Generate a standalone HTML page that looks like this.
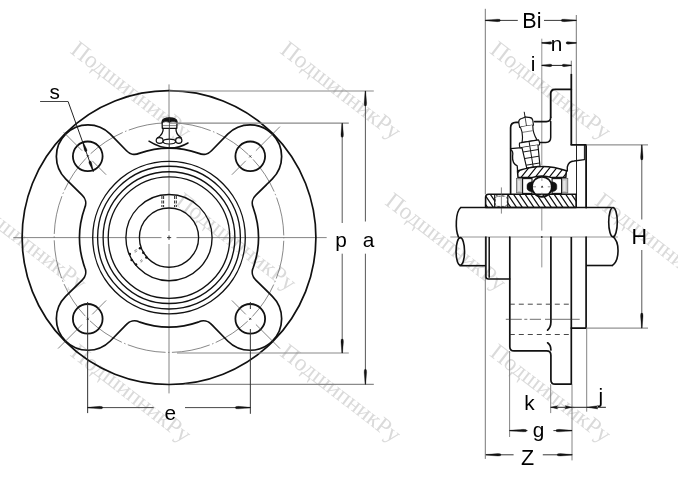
<!DOCTYPE html>
<html><head><meta charset="utf-8"><style>
html,body{margin:0;padding:0;background:#fff;width:678px;height:489px;overflow:hidden}
svg{display:block}
text{font-family:"Liberation Sans",sans-serif}
text.wm{font-family:"Liberation Serif",serif}
</style></head><body>
<svg width="678" height="489" viewBox="0 0 678 489">
<rect width="678" height="489" fill="#fff"/>
<g opacity="0.999"><text class="wm" transform="translate(-129.5,41.2) rotate(37.6)" x="-2" y="15.5" font-size="23.5" fill="#dadada">ПодшипникРу</text><text class="wm" transform="translate(80.3,41.2) rotate(37.6)" x="-2" y="15.5" font-size="23.5" fill="#dadada">ПодшипникРу</text><text class="wm" transform="translate(290.1,41.2) rotate(37.6)" x="-2" y="15.5" font-size="23.5" fill="#dadada">ПодшипникРу</text><text class="wm" transform="translate(499.9,41.2) rotate(37.6)" x="-2" y="15.5" font-size="23.5" fill="#dadada">ПодшипникРу</text><text class="wm" transform="translate(-24.6,192.6) rotate(37.6)" x="-2" y="15.5" font-size="23.5" fill="#dadada">ПодшипникРу</text><text class="wm" transform="translate(185.2,192.6) rotate(37.6)" x="-2" y="15.5" font-size="23.5" fill="#dadada">ПодшипникРу</text><text class="wm" transform="translate(395.0,192.6) rotate(37.6)" x="-2" y="15.5" font-size="23.5" fill="#dadada">ПодшипникРу</text><text class="wm" transform="translate(604.8,192.6) rotate(37.6)" x="-2" y="15.5" font-size="23.5" fill="#dadada">ПодшипникРу</text><text class="wm" transform="translate(-129.5,344.0) rotate(37.6)" x="-2" y="15.5" font-size="23.5" fill="#dadada">ПодшипникРу</text><text class="wm" transform="translate(80.3,344.0) rotate(37.6)" x="-2" y="15.5" font-size="23.5" fill="#dadada">ПодшипникРу</text><text class="wm" transform="translate(290.1,344.0) rotate(37.6)" x="-2" y="15.5" font-size="23.5" fill="#dadada">ПодшипникРу</text><text class="wm" transform="translate(499.9,344.0) rotate(37.6)" x="-2" y="15.5" font-size="23.5" fill="#dadada">ПодшипникРу</text></g><line x1="13.30" y1="237.60" x2="161.50" y2="237.60" stroke="#777" stroke-width="0.9" /><line x1="176.50" y1="237.60" x2="326.70" y2="237.60" stroke="#777" stroke-width="0.9" /><line x1="167.00" y1="237.60" x2="171.20" y2="237.60" stroke="#222" stroke-width="0.9" /><line x1="169.00" y1="84.40" x2="169.00" y2="231.00" stroke="#777" stroke-width="0.9" /><line x1="169.00" y1="244.00" x2="169.00" y2="393.40" stroke="#777" stroke-width="0.9" /><line x1="169.00" y1="235.40" x2="169.00" y2="239.80" stroke="#222" stroke-width="0.9" /><circle cx="169.00" cy="237.60" r="146.90" fill="none" stroke="#111" stroke-width="1.7" /><circle cx="169.00" cy="237.60" r="114.80" fill="none" stroke="#555" stroke-width="0.7" stroke-dasharray="38.6 2.5 1.5 2.5" stroke-dashoffset="41.85"/><circle cx="169.00" cy="237.60" r="76.30" fill="none" stroke="#111" stroke-width="1.35" /><circle cx="169.00" cy="237.60" r="71.40" fill="none" stroke="#111" stroke-width="1.35" /><circle cx="169.00" cy="237.60" r="65.90" fill="none" stroke="#111" stroke-width="1.35" /><circle cx="169.00" cy="237.60" r="60.80" fill="none" stroke="#111" stroke-width="1.35" /><circle cx="169.00" cy="237.60" r="43.10" fill="none" stroke="#111" stroke-width="1.35" /><circle cx="169.00" cy="237.60" r="29.60" fill="none" stroke="#111" stroke-width="1.35" /><path d="M253.24,207.67 A89.4,89.4 0 0 1 253.24,267.53 A11.0,11.0 0 0 0 255.85,280.07 L272.38,296.29 A31.6,31.6 0 1 1 227.69,340.98 L211.47,324.45 A11.0,11.0 0 0 0 198.93,321.84 L198.93,321.84 A89.4,89.4 0 0 1 139.07,321.84 A11.0,11.0 0 0 0 126.53,324.45 L110.31,340.98 A31.6,31.6 0 1 1 65.62,296.29 L82.15,280.07 A11.0,11.0 0 0 0 84.76,267.53 L84.76,267.53 A89.4,89.4 0 0 1 84.76,207.67 A11.0,11.0 0 0 0 82.15,195.13 L65.62,178.91 A31.6,31.6 0 1 1 110.31,134.22 L126.53,150.75 A11.0,11.0 0 0 0 139.07,153.36 L139.07,153.36 A89.4,89.4 0 0 1 198.93,153.36 A11.0,11.0 0 0 0 211.47,150.75 L227.69,134.22 A31.6,31.6 0 1 1 272.38,178.91 L255.85,195.13 A11.0,11.0 0 0 0 253.24,207.67 Z" fill="none" stroke="#111" stroke-width="1.7" stroke-linejoin="round" stroke-linecap="round" /><circle cx="87.75" cy="156.35" r="14.85" fill="none" stroke="#111" stroke-width="1.8" /><line x1="106.14" y1="174.74" x2="92.21" y2="160.81" stroke="#444" stroke-width="0.65" /><line x1="82.10" y1="150.70" x2="63.71" y2="132.31" stroke="#444" stroke-width="0.65" /><line x1="88.81" y1="157.41" x2="86.69" y2="155.29" stroke="#333" stroke-width="0.8" /><line x1="86.69" y1="157.41" x2="88.81" y2="155.29" stroke="#333" stroke-width="0.8" /><circle cx="250.25" cy="156.35" r="14.85" fill="none" stroke="#111" stroke-width="1.8" /><line x1="231.86" y1="174.74" x2="245.79" y2="160.81" stroke="#444" stroke-width="0.65" /><line x1="255.90" y1="150.70" x2="279.95" y2="126.65" stroke="#444" stroke-width="0.65" /><line x1="249.19" y1="157.41" x2="251.31" y2="155.29" stroke="#333" stroke-width="0.8" /><line x1="249.19" y1="155.29" x2="251.31" y2="157.41" stroke="#333" stroke-width="0.8" /><circle cx="250.25" cy="318.85" r="14.85" fill="none" stroke="#111" stroke-width="1.8" /><line x1="231.86" y1="300.46" x2="245.79" y2="314.39" stroke="#444" stroke-width="0.65" /><line x1="255.90" y1="324.50" x2="279.95" y2="348.55" stroke="#444" stroke-width="0.65" /><line x1="249.19" y1="317.79" x2="251.31" y2="319.91" stroke="#333" stroke-width="0.8" /><line x1="251.31" y1="317.79" x2="249.19" y2="319.91" stroke="#333" stroke-width="0.8" /><circle cx="87.75" cy="318.85" r="14.85" fill="none" stroke="#111" stroke-width="1.8" /><line x1="106.14" y1="300.46" x2="92.21" y2="314.39" stroke="#444" stroke-width="0.65" /><line x1="82.10" y1="324.50" x2="58.05" y2="348.55" stroke="#444" stroke-width="0.65" /><line x1="88.81" y1="317.79" x2="86.69" y2="319.91" stroke="#333" stroke-width="0.8" /><line x1="88.81" y1="319.91" x2="86.69" y2="317.79" stroke="#333" stroke-width="0.8" /><path d="M162.3,128.3 L162.1,121.8 Q162.4,117.9 169.5,117.9 Q176.8,117.9 177,121.8 L176.8,128.3 Z" fill="#fff" stroke="#111" stroke-width="1.3" stroke-linejoin="round" stroke-linecap="round" /><path d="M162.3,122.6 Q162.4,118.1 169.5,118.1 Q176.7,118.1 176.9,122.6 Q173,120.6 169.5,122.4 Q166,120.6 162.3,122.6 Z" fill="#111" stroke="#111" stroke-width="0.6" stroke-linejoin="round" stroke-linecap="round" /><path d="M163.2,128.3 Q163.4,134.5 157.6,137.9 M176,128.3 Q175.6,134.5 181.2,137.9" fill="none" stroke="#111" stroke-width="1.3" stroke-linejoin="round" stroke-linecap="round" /><line x1="162.50" y1="125.60" x2="176.60" y2="125.60" stroke="#333" stroke-width="0.6" /><ellipse cx="159.65" cy="140.5" rx="3.45" ry="2.8" fill="#fff" stroke="#111" stroke-width="1.2"/><ellipse cx="169.35" cy="141.55" rx="6.25" ry="2.45" fill="#fff" stroke="#111" stroke-width="1.2"/><ellipse cx="178.75" cy="140.5" rx="3.15" ry="2.8" fill="#fff" stroke="#111" stroke-width="1.2"/><line x1="169.40" y1="117.00" x2="169.40" y2="147.00" stroke="#333" stroke-width="0.8" /><path d="M149,141.2 Q169,154 188,143" fill="none" stroke="#111" stroke-width="1.5" stroke-linejoin="round" stroke-linecap="round" /><line x1="161.90" y1="196.00" x2="161.90" y2="207.00" stroke="#111" stroke-width="0.9" stroke-dasharray="3 1.5"/><line x1="163.60" y1="196.00" x2="163.60" y2="207.00" stroke="#111" stroke-width="0.9" stroke-dasharray="3 1.5"/><line x1="174.60" y1="196.00" x2="174.60" y2="207.00" stroke="#111" stroke-width="0.9" stroke-dasharray="3 1.5"/><line x1="176.30" y1="196.00" x2="176.30" y2="207.00" stroke="#111" stroke-width="0.9" stroke-dasharray="3 1.5"/><circle cx="129.8" cy="253.9" r="1.25" fill="#111"/><circle cx="131.6" cy="260.0" r="1.25" fill="#111"/><circle cx="136.0" cy="264.6" r="1.25" fill="#111"/><circle cx="140.0" cy="248.3" r="1.25" fill="#111"/><circle cx="143.3" cy="252.7" r="1.25" fill="#111"/><circle cx="146.4" cy="257.6" r="1.25" fill="#111"/><line x1="134.20" y1="251.00" x2="136.60" y2="249.40" stroke="#555" stroke-width="0.7" /><line x1="134.80" y1="252.40" x2="137.20" y2="250.80" stroke="#555" stroke-width="0.7" /><line x1="140.00" y1="261.20" x2="142.00" y2="259.40" stroke="#555" stroke-width="0.7" /><line x1="140.80" y1="262.40" x2="142.80" y2="260.60" stroke="#555" stroke-width="0.7" /><line x1="40.10" y1="101.50" x2="68.10" y2="101.50" stroke="#444" stroke-width="1.0" /><line x1="68.10" y1="101.50" x2="93.40" y2="172.00" stroke="#222" stroke-width="1.0" /><path d="M83.12,141.99 L84.92,145.59 L86.76,149.18 L87.07,150.66 L86.71,151.33 L85.73,151.68 L85.02,151.40 L84.32,150.06 L83.46,146.12 L82.56,142.19 Z" fill="#111" stroke="#111" stroke-width="0.3" stroke-linejoin="round"/><path d="M92.75,170.60 L90.95,167.00 L89.11,163.41 L88.80,161.93 L89.16,161.26 L90.14,160.91 L90.85,161.19 L91.55,162.53 L92.41,166.47 L93.31,170.40 Z" fill="#111" stroke="#111" stroke-width="0.3" stroke-linejoin="round"/><text x="49.42" y="98.50" font-size="20.8" fill="#000" >s</text><line x1="170.00" y1="123.20" x2="348.80" y2="123.20" stroke="#8a8a8a" stroke-width="1.2" /><line x1="177.00" y1="353.00" x2="348.80" y2="353.00" stroke="#8a8a8a" stroke-width="1.2" /><line x1="342.20" y1="123.20" x2="342.20" y2="223.00" stroke="#444" stroke-width="0.9" /><line x1="342.20" y1="253.70" x2="342.20" y2="353.00" stroke="#444" stroke-width="0.9" /><path d="M342.50,123.20 L342.95,128.80 L343.45,134.40 L343.25,136.50 L342.70,137.20 L341.70,137.20 L341.15,136.50 L340.95,134.40 L341.45,128.80 L341.90,123.20 Z" fill="#111" stroke="#111" stroke-width="0.3" stroke-linejoin="round"/><path d="M341.90,353.00 L341.45,347.40 L340.95,341.80 L341.15,339.70 L341.70,339.00 L342.70,339.00 L343.25,339.70 L343.45,341.80 L342.95,347.40 L342.50,353.00 Z" fill="#111" stroke="#111" stroke-width="0.3" stroke-linejoin="round"/><text x="335.27" y="246.60" font-size="20.8" fill="#000" >p</text><line x1="169.00" y1="91.00" x2="373.80" y2="91.00" stroke="#8a8a8a" stroke-width="1.2" /><line x1="185.00" y1="384.30" x2="373.80" y2="384.30" stroke="#8a8a8a" stroke-width="1.2" /><line x1="365.40" y1="91.00" x2="365.40" y2="221.50" stroke="#444" stroke-width="0.9" /><line x1="365.40" y1="253.70" x2="365.40" y2="384.30" stroke="#444" stroke-width="0.9" /><path d="M365.70,91.00 L366.15,97.00 L366.65,103.00 L366.45,105.25 L365.90,106.00 L364.90,106.00 L364.35,105.25 L364.15,103.00 L364.65,97.00 L365.10,91.00 Z" fill="#111" stroke="#111" stroke-width="0.3" stroke-linejoin="round"/><path d="M365.10,384.30 L364.65,378.30 L364.15,372.30 L364.35,370.05 L364.90,369.30 L365.90,369.30 L366.45,370.05 L366.65,372.30 L366.15,378.30 L365.70,384.30 Z" fill="#111" stroke="#111" stroke-width="0.3" stroke-linejoin="round"/><text x="362.83" y="247.00" font-size="20.8" fill="#000" >a</text><line x1="87.65" y1="302.00" x2="87.65" y2="413.10" stroke="#333" stroke-width="1.0" /><line x1="250.35" y1="302.00" x2="250.35" y2="309.00" stroke="#333" stroke-width="1.0" /><line x1="250.35" y1="329.00" x2="250.35" y2="413.80" stroke="#333" stroke-width="1.0" /><line x1="87.65" y1="407.60" x2="153.70" y2="407.60" stroke="#333" stroke-width="0.9" /><line x1="185.00" y1="407.60" x2="250.35" y2="407.60" stroke="#333" stroke-width="0.9" /><path d="M87.65,407.30 L93.65,406.85 L99.65,406.35 L101.90,406.55 L102.65,407.10 L102.65,408.10 L101.90,408.65 L99.65,408.85 L93.65,408.35 L87.65,407.90 Z" fill="#111" stroke="#111" stroke-width="0.3" stroke-linejoin="round"/><path d="M250.35,407.90 L244.35,408.35 L238.35,408.85 L236.10,408.65 L235.35,408.10 L235.35,407.10 L236.10,406.55 L238.35,406.35 L244.35,406.85 L250.35,407.30 Z" fill="#111" stroke="#111" stroke-width="0.3" stroke-linejoin="round"/><text x="164.43" y="419.60" font-size="20.8" fill="#000" >e</text>
<defs>
<clipPath id="cIR"><path d="M488.6,194.3 L576.1,194.3 L576.1,207.5 L485.6,207.5 L485.6,197.3 Q485.6,194.3 488.6,194.3 Z"/></clipPath>
<clipPath id="cOR"><path d="M517.5,171 Q541.8,162 566.4,170.8 L565.8,177.6 L552,177.6 Q541.8,174.5 531.5,177.6 L518,177.6 Z"/></clipPath>
</defs><line x1="450.30" y1="237.00" x2="617.80" y2="237.00" stroke="#888" stroke-width="0.9" /><line x1="541.80" y1="38.70" x2="541.80" y2="165.00" stroke="#777" stroke-width="0.8" /><line x1="541.80" y1="208.30" x2="541.80" y2="230.60" stroke="#777" stroke-width="0.8" /><line x1="541.80" y1="238.70" x2="541.80" y2="267.40" stroke="#777" stroke-width="0.8" /><circle cx="541.8" cy="237" r="0.9" fill="#333"/><line x1="485.30" y1="8.80" x2="485.30" y2="194.30" stroke="#777" stroke-width="1.0" /><line x1="485.30" y1="237.00" x2="485.30" y2="458.90" stroke="#777" stroke-width="1.0" /><line x1="576.30" y1="15.00" x2="576.30" y2="145.00" stroke="#777" stroke-width="1.0" /><line x1="485.30" y1="20.40" x2="517.80" y2="20.40" stroke="#222" stroke-width="0.9" /><line x1="544.00" y1="20.40" x2="576.30" y2="20.40" stroke="#222" stroke-width="0.9" /><path d="M485.30,20.10 L491.30,19.65 L497.30,19.15 L499.55,19.35 L500.30,19.90 L500.30,20.90 L499.55,21.45 L497.30,21.65 L491.30,21.15 L485.30,20.70 Z" fill="#111" stroke="#111" stroke-width="0.3" stroke-linejoin="round"/><path d="M576.30,20.70 L570.30,21.15 L564.30,21.65 L562.05,21.45 L561.30,20.90 L561.30,19.90 L562.05,19.35 L564.30,19.15 L570.30,19.65 L576.30,20.10 Z" fill="#111" stroke="#111" stroke-width="0.3" stroke-linejoin="round"/><text x="522.34" y="28.00" font-size="21.5" fill="#000" >Bi</text><line x1="541.80" y1="42.90" x2="550.00" y2="42.90" stroke="#222" stroke-width="0.9" /><line x1="566.00" y1="42.90" x2="576.30" y2="42.90" stroke="#222" stroke-width="0.9" /><path d="M541.80,42.60 L545.80,42.15 L549.80,41.65 L551.30,41.85 L551.80,42.40 L551.80,43.40 L551.30,43.95 L549.80,44.15 L545.80,43.65 L541.80,43.20 Z" fill="#111" stroke="#111" stroke-width="0.3" stroke-linejoin="round"/><path d="M576.30,43.20 L572.30,43.65 L568.30,44.15 L566.80,43.95 L566.30,43.40 L566.30,42.40 L566.80,41.85 L568.30,41.65 L572.30,42.15 L576.30,42.60 Z" fill="#111" stroke="#111" stroke-width="0.3" stroke-linejoin="round"/><text x="550.63" y="50.70" font-size="20.8" fill="#000" >n</text><line x1="571.30" y1="60.70" x2="571.30" y2="74.00" stroke="#666" stroke-width="0.9" /><line x1="541.80" y1="65.40" x2="571.30" y2="65.40" stroke="#222" stroke-width="1.0" /><path d="M541.80,65.10 L545.80,64.65 L549.80,64.15 L551.30,64.35 L551.80,64.90 L551.80,65.90 L551.30,66.45 L549.80,66.65 L545.80,66.15 L541.80,65.70 Z" fill="#111" stroke="#111" stroke-width="0.3" stroke-linejoin="round"/><path d="M571.30,65.70 L567.70,66.15 L564.10,66.65 L562.75,66.45 L562.30,65.90 L562.30,64.90 L562.75,64.35 L564.10,64.15 L567.70,64.65 L571.30,65.10 Z" fill="#111" stroke="#111" stroke-width="0.3" stroke-linejoin="round"/><text x="530.71" y="71.00" font-size="20.8" fill="#000" >i</text><path d="M550.7,117.2 L550.7,93.8 Q550.7,89.3 555.2,89.3 L571.3,89.3" fill="none" stroke="#111" stroke-width="1.8" stroke-linejoin="round" stroke-linecap="round" /><line x1="571.30" y1="73.90" x2="571.30" y2="145.00" stroke="#111" stroke-width="1.8" /><path d="M571.3,144.9 L586.1,144.9 L586.1,207.5" fill="none" stroke="#111" stroke-width="1.8" stroke-linejoin="round" stroke-linecap="round" /><line x1="586.10" y1="144.90" x2="648.00" y2="144.90" stroke="#777" stroke-width="1.0" /><line x1="584.40" y1="145.00" x2="584.40" y2="159.60" stroke="#111" stroke-width="1.0" /><line x1="576.50" y1="145.00" x2="576.50" y2="207.50" stroke="#222" stroke-width="1.0" /><path d="M550.7,117.2 Q550.7,121.6 546.3,121.6 L534.5,121.6" fill="none" stroke="#111" stroke-width="1.6" stroke-linejoin="round" stroke-linecap="round" /><path d="M550.7,121.6 L550.7,137.5 Q550.7,142.4 545.8,142.4 L540,142.4" fill="none" stroke="#111" stroke-width="1.5" stroke-linejoin="round" stroke-linecap="round" /><path d="M519.2,122.3 L516,122.3 Q510.6,122.3 510.6,127.7 L510.6,194.3" fill="none" stroke="#111" stroke-width="1.7" stroke-linejoin="round" stroke-linecap="round" /><path d="M510.6,148.6 L522.8,147.6" fill="none" stroke="#111" stroke-width="1.3" stroke-linejoin="round" stroke-linecap="round" /><path d="M510.8,149.8 Q513.5,151 512.6,156 Q512,163.5 517.2,165.8 L517.6,170.8" fill="none" stroke="#111" stroke-width="1.3" stroke-linejoin="round" stroke-linecap="round" /><path d="M567.3,171.1 L567.3,167 Q568.5,161.3 574,161 L584.4,159.6" fill="none" stroke="#111" stroke-width="1.4" stroke-linejoin="round" stroke-linecap="round" /><g transform="translate(524.2,111.8) rotate(-9.3)"><path d="M0,0 L0,5.5" stroke="#111" stroke-width="0.9"/><path d="M-7,14.5 L-7.1,9.8 Q-7,6.6 -3.6,6.2 Q-1,5.6 0,5.2 Q1,5.6 3.6,6.2 Q7,6.6 7.1,9.8 L7,14.5 Z" fill="#fff" stroke="#111" stroke-width="1.15"/><path d="M0,5.4 L0,30" stroke="#111" stroke-width="0.7" fill="none"/><path d="M-6.2,14.5 Q-4.2,22 -7.2,30 L8.2,30 Q4.8,22 6.4,14.5" fill="#fff" stroke="#111" stroke-width="1.15"/><path d="M-5.2,20 L5.2,20" stroke="#111" stroke-width="0.5" fill="none"/><path d="M-9.6,30 L9.6,30 Q10.6,32.5 9.8,35 L-9.8,35 Q-10.6,32.5 -9.6,30 Z" fill="#fff" stroke="#111" stroke-width="1.15"/><path d="M0,30 L0,35" stroke="#111" stroke-width="0.9"/><path d="M-8.0,35 L-6.6,56 L6.8,56 L8.2,35" fill="#fff" stroke="#111" stroke-width="1.15"/><path d="M-7.7,39.5 L7.9,39.5 M-7.3,46.2 L7.5,46.2 M-6.8,53 L7.0,53 M0,35 L0,56" stroke="#111" stroke-width="0.9" fill="none"/></g><path d="M517.5,171 Q541.8,162 566.4,170.8 L565.8,177.6 L552,177.6 Q541.8,174.5 531.5,177.6 L518,177.6 Z" fill="#fff" stroke="none"/><path clip-path="url(#cOR)" d="M449.00,180 L465.00,160 M456.00,180 L472.00,160 M463.00,180 L479.00,160 M470.00,180 L486.00,160 M477.00,180 L493.00,160 M484.00,180 L500.00,160 M491.00,180 L507.00,160 M498.00,180 L514.00,160 M505.00,180 L521.00,160 M512.00,180 L528.00,160 M519.00,180 L535.00,160 M526.00,180 L542.00,160 M533.00,180 L549.00,160 M540.00,180 L556.00,160 M547.00,180 L563.00,160 M554.00,180 L570.00,160 M561.00,180 L577.00,160 M568.00,180 L584.00,160 M575.00,180 L591.00,160 M582.00,180 L598.00,160 M589.00,180 L605.00,160 M596.00,180 L612.00,160" stroke="#111" stroke-width="1.2" fill="none"/><path d="M517.5,171 Q541.8,162 566.4,170.8 L565.8,177.6 L552,177.6 Q541.8,174.5 531.5,177.6 L518,177.6 Z" fill="none" stroke="#111" stroke-width="1.5" stroke-linejoin="round" stroke-linecap="round" /><rect x="516.4" y="178.3" width="6.2" height="14.6" fill="#c4c4c4" stroke="#555" stroke-width="0.7"/><rect x="518.0" y="180.5" width="2.4" height="10.5" fill="#e6e6e6" stroke="none"/><rect x="561.6" y="178.3" width="6.2" height="14.6" fill="#c4c4c4" stroke="#555" stroke-width="0.7"/><rect x="563.2" y="180.5" width="2.4" height="10.5" fill="#e6e6e6" stroke="none"/><rect x="522.6" y="178.6" width="9.4" height="14.8" fill="#fff" stroke="#111" stroke-width="1.1"/><rect x="552.1" y="178.6" width="9.5" height="14.8" fill="#fff" stroke="#111" stroke-width="1.1"/><path d="M488.6,194.3 L576.1,194.3 L576.1,207.5 L485.6,207.5 L485.6,197.3 Q485.6,194.3 488.6,194.3 Z" fill="#fff"/><path clip-path="url(#cIR)" d="M446.80,190 L460.30,210 M452.60,190 L466.10,210 M458.40,190 L471.90,210 M464.20,190 L477.70,210 M470.00,190 L483.50,210 M475.80,190 L489.30,210 M481.60,190 L495.10,210 M487.40,190 L500.90,210 M493.20,190 L506.70,210 M499.00,190 L512.50,210 M504.80,190 L518.30,210 M510.60,190 L524.10,210 M516.40,190 L529.90,210 M522.20,190 L535.70,210 M528.00,190 L541.50,210 M533.80,190 L547.30,210 M539.60,190 L553.10,210 M545.40,190 L558.90,210 M551.20,190 L564.70,210 M557.00,190 L570.50,210 M562.80,190 L576.30,210 M568.60,190 L582.10,210 M574.40,190 L587.90,210 M580.20,190 L593.70,210 M586.00,190 L599.50,210 M591.80,190 L605.30,210" stroke="#111" stroke-width="1.25" fill="none"/><rect x="494.7" y="195.6" width="13.1" height="11.2" rx="3" fill="#fff" stroke="none"/><rect x="495.2" y="196.2" width="12.1" height="10.2" rx="3" fill="none" stroke="#444" stroke-width="0.9" stroke-dasharray="2.5 1.5"/><path d="M488.6,194.3 L576.1,194.3 L576.1,207.5 L485.6,207.5 L485.6,197.3 Q485.6,194.3 488.6,194.3 Z" fill="none" stroke="#111" stroke-width="1.6" stroke-linejoin="round" stroke-linecap="round" /><line x1="494.70" y1="194.50" x2="494.70" y2="207.30" stroke="#111" stroke-width="1.2" /><line x1="507.80" y1="194.50" x2="507.80" y2="207.30" stroke="#111" stroke-width="1.2" /><line x1="501.40" y1="187.40" x2="501.40" y2="213.60" stroke="#555" stroke-width="0.7" /><path d="M532,181.8 Q526.4,182.2 527,186.8 Q526.4,191.4 532,191.8 Z" fill="#111" stroke="#111" stroke-width="0.5" stroke-linejoin="round" stroke-linecap="round" /><path d="M551.8,181.8 Q557.4,182.2 556.8,186.8 Q557.4,191.4 551.8,191.8 Z" fill="#111" stroke="#111" stroke-width="0.5" stroke-linejoin="round" stroke-linecap="round" /><circle cx="541.90" cy="186.80" r="10.00" fill="none" stroke="#111" stroke-width="1.7" fill="#fff"/><line x1="541.90" y1="177.90" x2="541.90" y2="180.90" stroke="#777" stroke-width="0.8" /><line x1="541.90" y1="192.70" x2="541.90" y2="195.70" stroke="#777" stroke-width="0.8" /><line x1="533.00" y1="186.80" x2="536.00" y2="186.80" stroke="#777" stroke-width="0.8" /><line x1="547.80" y1="186.80" x2="550.80" y2="186.80" stroke="#777" stroke-width="0.8" /><path d="M542.1,185.4 L543.4,187.6 L540.8,187.6 Z" fill="#111"/><line x1="460.70" y1="207.50" x2="611.70" y2="207.50" stroke="#111" stroke-width="1.7" /><path d="M460.7,207.5 C455.3,212 455.3,230 458.4,236.8" fill="none" stroke="#111" stroke-width="1.6" stroke-linejoin="round" stroke-linecap="round" /><ellipse cx="460.3" cy="251.4" rx="4.25" ry="13.8" fill="none" stroke="#111" stroke-width="1.6"/><line x1="459.50" y1="265.70" x2="485.90" y2="265.70" stroke="#111" stroke-width="1.6" /><ellipse cx="613" cy="222.1" rx="4.3" ry="14.6" fill="none" stroke="#111" stroke-width="1.6"/><path d="M613,236.7 C619.8,242 619.8,260 612.5,265.4" fill="none" stroke="#111" stroke-width="1.6" stroke-linejoin="round" stroke-linecap="round" /><line x1="586.10" y1="265.50" x2="612.50" y2="265.50" stroke="#111" stroke-width="1.6" /><path d="M485.9,237 L485.9,276.5 Q485.9,279.0 488.4,279.0 L509.8,279.0" fill="none" stroke="#111" stroke-width="1.6" stroke-linejoin="round" stroke-linecap="round" /><line x1="489.20" y1="237.00" x2="489.20" y2="277.80" stroke="#111" stroke-width="1.5" /><path d="M509.8,237 L509.8,346.7 Q509.8,350.9 514,350.9 L546.6,350.9 Q550.9,350.9 550.9,355.2 L550.9,380 Q550.9,384.2 555.1,384.2 L571.3,384.2" fill="none" stroke="#111" stroke-width="1.7" stroke-linejoin="round" stroke-linecap="round" /><path d="M550.9,237 L550.9,322 Q550.9,327 547.6,330.1" fill="none" stroke="#111" stroke-width="1.7" stroke-linejoin="round" stroke-linecap="round" /><path d="M547.6,342.8 Q550.9,345 550.9,350" fill="none" stroke="#111" stroke-width="1.7" stroke-linejoin="round" stroke-linecap="round" /><line x1="571.30" y1="237.00" x2="571.30" y2="384.20" stroke="#111" stroke-width="1.7" /><path d="M586.1,237 L586.1,328.1 L571.3,328.1" fill="none" stroke="#111" stroke-width="1.7" stroke-linejoin="round" stroke-linecap="round" /><line x1="586.10" y1="328.10" x2="648.00" y2="328.10" stroke="#777" stroke-width="1.0" /><line x1="509.80" y1="304.20" x2="571.30" y2="304.20" stroke="#333" stroke-width="0.9" stroke-dasharray="5 4"/><line x1="509.80" y1="334.50" x2="571.30" y2="334.50" stroke="#333" stroke-width="0.9" stroke-dasharray="5 4"/><line x1="505.80" y1="319.30" x2="541.00" y2="319.30" stroke="#333" stroke-width="0.7" stroke-dasharray="16 2.5 3 2.5"/><line x1="545.00" y1="319.30" x2="579.70" y2="319.30" stroke="#333" stroke-width="0.7" /><line x1="641.80" y1="144.90" x2="641.80" y2="219.50" stroke="#444" stroke-width="0.9" /><line x1="641.80" y1="250.00" x2="641.80" y2="328.10" stroke="#444" stroke-width="0.9" /><path d="M642.10,144.90 L642.55,150.90 L643.05,156.90 L642.85,159.15 L642.30,159.90 L641.30,159.90 L640.75,159.15 L640.55,156.90 L641.05,150.90 L641.50,144.90 Z" fill="#111" stroke="#111" stroke-width="0.3" stroke-linejoin="round"/><path d="M641.50,328.10 L641.05,322.10 L640.55,316.10 L640.75,313.85 L641.30,313.10 L642.30,313.10 L642.85,313.85 L643.05,316.10 L642.55,322.10 L642.10,328.10 Z" fill="#111" stroke="#111" stroke-width="0.3" stroke-linejoin="round"/><text x="631.54" y="243.80" font-size="21.5" fill="#000" >H</text><line x1="509.60" y1="351.00" x2="509.60" y2="437.00" stroke="#777" stroke-width="0.9" /><line x1="550.70" y1="384.20" x2="550.70" y2="413.10" stroke="#777" stroke-width="0.9" /><line x1="572.00" y1="384.20" x2="572.00" y2="460.40" stroke="#777" stroke-width="0.9" /><line x1="586.70" y1="328.10" x2="586.70" y2="411.70" stroke="#777" stroke-width="0.9" /><line x1="550.70" y1="407.30" x2="605.90" y2="407.30" stroke="#222" stroke-width="1.0" /><path d="M550.70,407.30 L557.70,405.70 L556.30,407.30 L557.70,408.90 Z" fill="#111" stroke="#111" stroke-width="0.4" stroke-linejoin="round"/><path d="M572.00,407.30 L565.00,408.90 L566.40,407.30 L565.00,405.70 Z" fill="#111" stroke="#111" stroke-width="0.4" stroke-linejoin="round"/><path d="M587.00,407.30 L598.00,405.70 L595.80,407.30 L598.00,408.90 Z" fill="#111" stroke="#111" stroke-width="0.4" stroke-linejoin="round"/><text x="524.21" y="409.80" font-size="20.8" fill="#000" >k</text><text x="598.50" y="402.80" font-size="20.8" fill="#000" >j</text><line x1="509.60" y1="430.60" x2="527.50" y2="430.60" stroke="#222" stroke-width="0.9" /><line x1="553.40" y1="430.60" x2="572.00" y2="430.60" stroke="#222" stroke-width="0.9" /><path d="M509.60,430.30 L516.40,429.85 L523.20,429.35 L525.75,429.55 L526.60,430.10 L526.60,431.10 L525.75,431.65 L523.20,431.85 L516.40,431.35 L509.60,430.90 Z" fill="#111" stroke="#111" stroke-width="0.3" stroke-linejoin="round"/><path d="M572.00,430.90 L565.60,431.35 L559.20,431.85 L556.80,431.65 L556.00,431.10 L556.00,430.10 L556.80,429.55 L559.20,429.35 L565.60,429.85 L572.00,430.30 Z" fill="#111" stroke="#111" stroke-width="0.3" stroke-linejoin="round"/><text x="532.63" y="437.30" font-size="20.8" fill="#000" >g</text><line x1="485.90" y1="454.80" x2="513.60" y2="454.80" stroke="#222" stroke-width="0.9" /><line x1="542.80" y1="454.80" x2="572.20" y2="454.80" stroke="#222" stroke-width="0.9" /><path d="M485.90,454.50 L491.90,454.05 L497.90,453.55 L500.15,453.75 L500.90,454.30 L500.90,455.30 L500.15,455.85 L497.90,456.05 L491.90,455.55 L485.90,455.10 Z" fill="#111" stroke="#111" stroke-width="0.3" stroke-linejoin="round"/><path d="M572.20,455.10 L566.20,455.55 L560.20,456.05 L557.95,455.85 L557.20,455.30 L557.20,454.30 L557.95,453.75 L560.20,453.55 L566.20,454.05 L572.20,454.50 Z" fill="#111" stroke="#111" stroke-width="0.3" stroke-linejoin="round"/><text x="521.01" y="464.50" font-size="21.5" fill="#000" >Z</text>
</svg>
</body></html>
